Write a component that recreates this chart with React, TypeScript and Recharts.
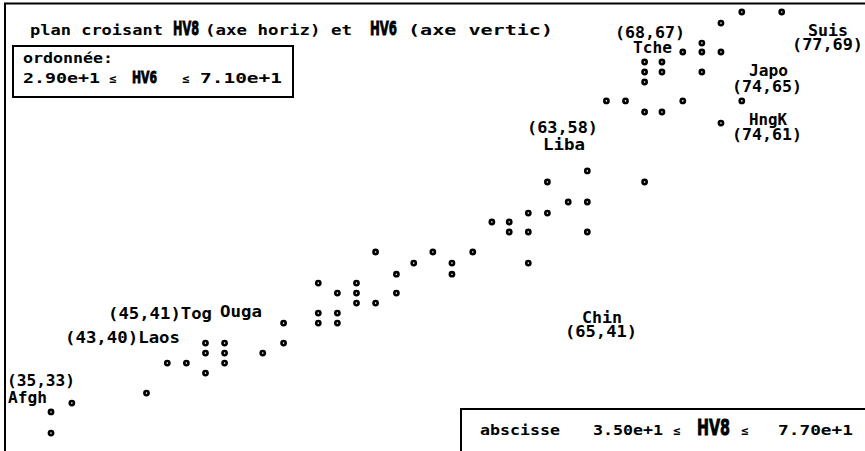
import { Scatter, ScatterChart, XAxis, YAxis } from "recharts";

// HV8 (horizontal) and HV6 (vertical), one entry per country
const hv8 = [
  74.8, 77.1, 73.6, 72.5, 71.4, 72.5, 73.6, 69.2, 70.2, 69.2,
  70.2, 72.5, 69.2, 67.0, 68.1, 71.4, 74.8, 69.2, 70.2, 73.6,
  65.9, 63.6, 69.2, 64.8, 65.9, 62.5, 63.6, 60.4, 61.4, 61.4,
  62.5, 65.9, 53.7, 57.0, 59.3, 55.9, 58.1, 62.5, 54.9, 58.1,
  50.4, 52.6, 51.5, 52.6, 54.9, 52.6, 53.7, 50.4, 51.5, 50.4,
  51.5, 48.4, 48.4, 43.9, 45.0, 43.9, 45.0, 47.2, 41.7, 42.8,
  45.0, 43.9, 40.5, 36.2, 35.0, 35.0,
];
const hv6 = [
  69.0, 69.0, 68.0, 66.2, 65.4, 65.4, 65.4, 64.5, 64.5, 63.6,
  63.6, 63.6, 62.7, 61.0, 61.0, 61.0, 61.0, 60.0, 60.0, 59.0,
  54.7, 53.7, 53.7, 51.9, 51.9, 50.9, 50.9, 50.1, 50.1, 49.2,
  49.2, 49.2, 47.4, 47.4, 47.4, 46.4, 46.4, 46.4, 45.4, 45.4,
  44.6, 44.6, 43.7, 43.7, 43.7, 42.8, 42.8, 41.9, 41.9, 41.0,
  41.0, 41.0, 39.2, 39.2, 39.2, 38.3, 38.3, 38.3, 37.4, 37.4,
  37.4, 36.5, 34.7, 33.8, 33.0, 31.1,
];

const points = hv8.map((x, i) => ({ hv8: x, hv6: hv6[i] }));

// point labels: text, x, baseline, width
const labels: [string, number, number, number][] = [
  ["(68,67)", 615, 38, 70],
  ["Tche", 633, 53, 39],
  ["Suis", 808, 36, 40],
  ["(77,69)", 792, 50, 71],
  ["Japo", 749, 76, 39],
  ["(74,65)", 732, 92, 70],
  ["HngK", 749, 125, 38],
  ["(74,61)", 732, 140, 70],
  ["(63,58)", 527, 133, 71],
  ["Liba", 543, 150, 42],
  ["Chin", 582, 323, 40],
  ["(65,41)", 565, 337, 72],
  ["(45,41)Tog", 108, 319, 104],
  ["Ouga", 220, 317, 42],
  ["(43,40)Laos", 65, 343, 115],
  ["(35,33)", 7, 386, 68],
  ["Afgh", 8, 403, 39],
];

const mono = "'DejaVu Sans Mono', monospace";
const big = "'DejaVu Sans', sans-serif";

function T({ x, y, w, size = 14, children }: any) {
  return (
    <text x={x} y={y} fontFamily={mono} fontWeight="bold" fontSize={size} fill="#000"
      textLength={w} lengthAdjust="spacingAndGlyphs">
      {children}
    </text>
  );
}

function B({ x, y, w, size, children }: any) {
  return (
    <text x={x} y={y} fontFamily={big} fontWeight="bold" fontSize={size} fill="#000"
      stroke="#000" strokeWidth={0.9} textLength={w} lengthAdjust="spacingAndGlyphs">
      {children}
    </text>
  );
}

function Le({ x, y }: any) {
  return (
    <text x={x} y={y} fontFamily={mono} fontWeight="bold" fontSize={12} fill="#000">≤</text>
  );
}

const Dot = (p: any) => (
  <circle cx={p.cx} cy={p.cy} r={2.1} fill="#fff" stroke="#000" strokeWidth={2.6} />
);

export default function App() {
  return (
    <div style={{ position: "absolute", left: 0, top: 0, width: 865, height: 451, background: "#fff" }}>
      <ScatterChart width={865} height={451} margin={{ top: 0.9, right: 15.6, bottom: 5.7, left: 16.3 }}>
        <XAxis type="number" dataKey="hv8" domain={[33, 81]} hide allowDataOverflow />
        <YAxis type="number" dataKey="hv6" domain={[30, 70]} hide allowDataOverflow />
        <Scatter data={points} shape={Dot} isAnimationActive={false} />
      </ScatterChart>
      <svg width={865} height={451} style={{ position: "absolute", left: 0, top: 0, pointerEvents: "none" }}>
        {/* frame */}
        <line x1={5} y1={3} x2={5} y2={451} stroke="#000" strokeWidth={2} />
        <line x1={4} y1={3.5} x2={865} y2={3.5} stroke="#000" strokeWidth={2} />

        {/* title */}
        <T x={30} y={35} w={133}>plan croisant</T>
        <B x={173} y={35} w={26} size={19}>HV8</B>
        <T x={205} y={35} w={147}>(axe horiz) et</T>
        <B x={370} y={35} w={27} size={19}>HV6</B>
        <T x={408} y={35} w={145}>(axe vertic)</T>

        {/* ordonnée box */}
        <rect x={13} y={46} width={280} height={51} fill="#fff" stroke="#000" strokeWidth={2} />
        <T x={23} y={63} w={90}>ordonnée:</T>
        <T x={23} y={83} w={77}>2.90e+1</T>
        <Le x={109} y={83} />
        <B x={132} y={83} w={25} size={16}>HV6</B>
        <Le x={182} y={83} />
        <T x={200} y={83} w={82}>7.10e+1</T>

        {/* abscisse box */}
        <rect x={461} y={409} width={420} height={60} fill="#fff" stroke="#000" strokeWidth={2} />
        <T x={480} y={435} w={80}>abscisse</T>
        <T x={593} y={435} w={70}>3.50e+1</T>
        <Le x={673} y={435} />
        <B x={697} y={435} w={33} size={21}>HV8</B>
        <Le x={741} y={435} />
        <T x={778} y={435} w={75}>7.70e+1</T>

        {labels.map(([s, x, y, w]) => (
          <T key={s} x={x} y={y} w={w} size={15}>{s}</T>
        ))}
      </svg>
    </div>
  );
}
